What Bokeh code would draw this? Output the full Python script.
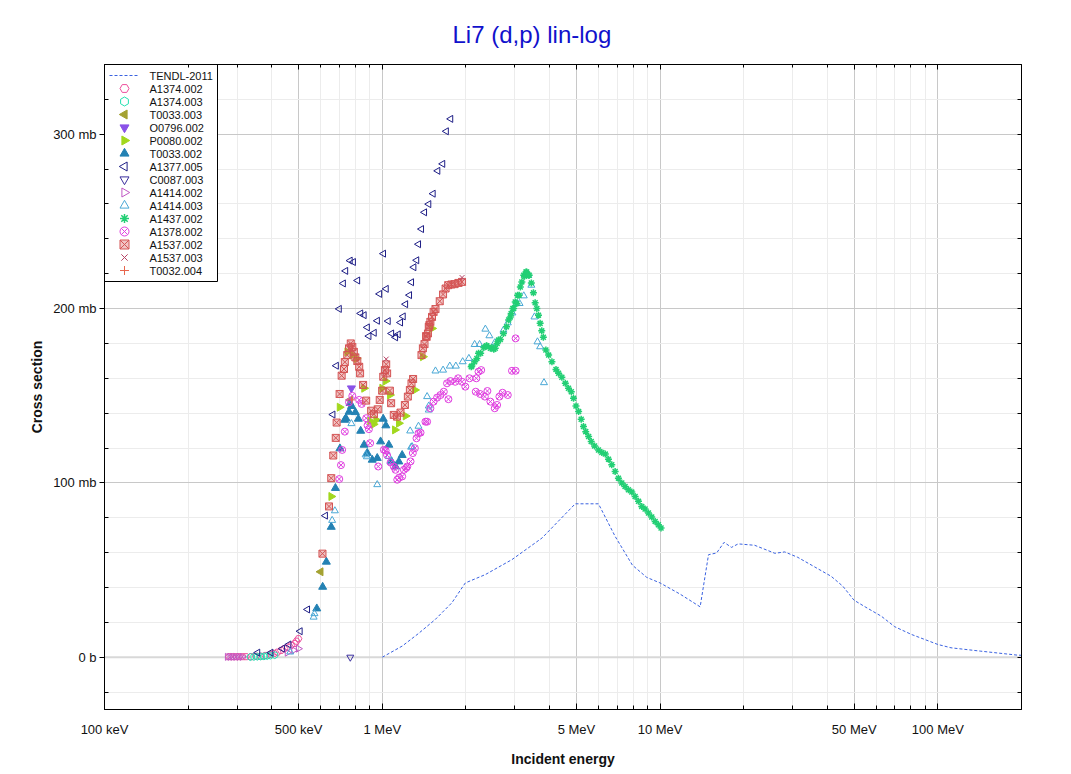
import math
from bokeh.plotting import figure
from bokeh.models import (FixedTicker, CustomJSTickFormatter, LinearAxis, LogAxis,
                          Range1d, Span, LinearScale)
from bokeh.core.properties import value
from bokeh.embed import file_html
from bokeh.resources import INLINE

# ---------------- data (energy in MeV, cross section in mb) ----------------
TENDL_E = [1.0, 1.18, 1.35, 1.55, 1.78, 1.99, 2.35, 2.93, 3.76, 4.95, 6.0, 6.89, 7.95, 8.95, 10.0,
           11.8, 13.94, 14.94, 15.98, 17.0, 18.07, 19.1, 21.9, 25.9, 28.1, 31.3, 36.0, 41.3, 45.5,
           49.9, 54.7, 62.6, 69.9, 80.2, 100.0, 111.5, 142.0, 193.0, 200.0]
TENDL_XS = [0.0, 6.4, 13.6, 21.6, 31.2, 42.6, 47.4, 56.0, 68.4, 88.0, 88.0, 69.3, 52.8, 45.8, 42.6,
            36.2, 28.9, 58.8, 59.8, 65.9, 63.0, 65.0, 64.2, 59.6, 60.4, 57.3, 51.8, 46.4, 40.7,
            32.7, 28.9, 23.5, 17.5, 13.1, 7.3, 5.4, 3.5, 1.2, 1.1]

A1374_002_E = [0.281, 0.289, 0.298, 0.305, 0.314, 0.323, 0.337, 0.351, 0.365, 0.38, 0.397, 0.408,
               0.42, 0.432, 0.444, 0.457, 0.47, 0.484, 0.491, 0.499]
A1374_002_XS = [0.3, 0.3, 0.3, 0.3, 0.3, 0.3, 0.3, 0.6, 0.6, 1.0, 1.6, 2.2, 2.9, 3.9, 4.9, 5.8,
                6.8, 7.9, 9.2, 10.6]

A1374_003_E = [0.335, 0.345, 0.355, 0.365, 0.375, 0.385, 0.395, 0.41]
A1374_003_XS = [0.1, 0.2, 0.3, 0.4, 0.5, 0.7, 0.9, 1.2]

T0033_003_E = [0.60, 0.766]
T0033_003_XS = [49.0, 147.6]

O0796_002_E = [0.774]
O0796_002_XS = [154.3]

P0080_002_E = [0.655, 0.702, 0.748, 0.78, 0.808, 0.86, 0.904, 0.93, 0.951, 0.999, 1.028, 1.065,
               1.11, 1.147, 1.213, 1.31, 1.40, 1.51]
P0080_002_XS = [92.2, 143.4, 175.2, 173.3, 171.4, 154.3, 135.5, 133.6, 136.1, 154.3, 158.4, 150.4,
                130.4, 134.2, 138.4, 153.3, 172.4, 188.6]

T0033_002_E = [0.581, 0.61, 0.629, 0.655, 0.678, 0.704, 0.732, 0.74, 0.759, 0.766, 0.775, 0.80,
               0.82, 0.836, 0.86, 0.883, 0.92, 0.959, 0.986, 1.008, 1.03, 1.056, 1.08, 1.116,
               1.147, 1.179]
T0033_002_XS = [27.9, 40.3, 54.7, 74.7, 97.0, 119.7, 136.1, 137.0, 140.7, 145.7, 144.0, 140.5,
                136.7, 129.8, 121.8, 117.1, 113.2, 114.2, 123.7, 136.7, 132.9, 121.8, 112.2, 109.4,
                112.2, 115.9]

A1377_005_E = [0.356, 0.397, 0.437, 0.461, 0.506, 0.538, 0.624, 0.664, 0.683, 0.70, 0.724, 0.738,
               0.766, 0.787, 0.815, 0.836, 0.86, 0.883, 0.895, 0.935, 0.96, 0.978, 1.01, 1.033,
               1.05, 1.08, 1.116, 1.141, 1.163, 1.189, 1.213, 1.253, 1.274, 1.299, 1.33, 1.35,
               1.384, 1.419, 1.47, 1.524, 1.584, 1.65, 1.70, 1.763]
A1377_005_XS = [2.6, 2.6, 4.9, 7.3, 14.9, 27.4, 81.2, 139.2, 167.2, 199.8, 214.4, 221.6, 227.5,
                226.7, 216.1, 197.2, 196.2, 189.2, 184.2, 186.1, 193.0, 208.4, 231.5, 211.3, 192.8,
                185.7, 183.5, 185.2, 192.0, 195.5, 202.5, 207.7, 215.1, 223.7, 227.7, 236.9, 245.6,
                255.2, 259.9, 265.9, 279.0, 283.0, 301.7, 308.8]

C0087_003_E = [0.767]
C0087_003_XS = [0.0]

A1414_002_E = [0.277, 0.283, 0.29, 0.297, 0.305, 0.313, 0.455, 0.48, 0.499]
A1414_002_XS = [0.2, 0.2, 0.2, 0.2, 0.2, 0.2, 2.6, 4.0, 4.9]

A1414_003_E = [0.466, 0.566, 0.57, 0.66, 0.675, 0.774, 0.871, 0.88, 0.959, 1.056, 1.07, 1.26,
               1.27, 1.28, 1.35, 1.45, 1.47, 1.47, 1.554, 1.655, 1.75, 1.84, 1.947, 2.05, 2.15,
               2.24, 2.35, 2.43, 2.54, 2.73, 2.83, 2.94, 3.05, 3.12, 3.23, 3.35, 3.44, 3.53, 3.62,
               3.70, 3.82]
A1414_003_XS = [3.0, 23.0, 25.0, 78.5, 84.0, 134.0, 116.1, 115.0, 99.0, 115.1, 112.2, 129.8,
                120.5, 120.8, 132.5, 149.5, 144.1, 141.8, 164.2, 164.7, 167.0, 167.0, 169.5, 171.4,
                179.4, 179.4, 188.2, 184.4, 180.4, 187.6, 191.8, 197.5, 202.9, 202.9, 207.3, 219.1,
                213.4, 195.2, 180.9, 178.1, 157.5]

A1437_002_E = [2.09, 2.10, 2.15, 2.19, 2.22, 2.26, 2.32, 2.37, 2.38, 2.45, 2.48, 2.52, 2.55, 2.59,
               2.62, 2.66, 2.73, 2.80, 2.85, 2.89, 2.91, 2.95, 2.97, 3.01, 3.05, 3.07, 3.11, 3.14,
               3.18, 3.23, 3.25, 3.29, 3.31, 3.36, 3.38, 3.44, 3.50, 3.55, 3.60, 3.65, 3.70, 3.75,
               3.80, 3.88, 3.97, 4.08, 4.22, 4.31, 4.43, 4.56, 4.68, 4.79, 4.88, 4.98, 5.09, 5.20,
               5.30, 5.40, 5.53, 5.65, 5.81, 6.00, 6.17, 6.35, 6.52, 6.70, 6.89, 7.08, 7.28, 7.48,
               7.69, 7.91, 8.13, 8.36, 8.59, 8.83, 9.08, 9.33, 9.60, 9.86, 10.08]
A1437_002_XS = [166.6, 167.0, 169.5, 171.4, 174.3, 174.3, 177.7, 178.7, 178.5, 177.2, 177.7, 176.6,
                177.2, 180.0, 181.9, 182.3, 185.7, 189.5, 193.4, 195.2, 197.2, 200.0, 200.0, 203.8,
                202.9, 207.7, 207.7, 212.4, 215.3, 219.1, 218.5, 221.0, 221.0, 219.1, 219.1, 214.7,
                209.0, 203.3, 200.0, 196.2, 191.5, 187.2, 183.5, 176.2, 173.3, 169.5, 165.1, 162.9,
                160.6, 157.1, 154.3, 152.3, 148.5, 144.1, 140.9, 136.5, 132.3, 129.4, 126.6, 123.7,
                121.2, 118.9, 117.4, 116.5, 113.6, 110.4, 106.5, 102.7, 99.9, 97.9, 96.0, 94.7,
                92.2, 89.4, 86.5, 85.0, 82.7, 80.4, 77.9, 76.0, 74.1]

A1378_002_E = [0.70, 0.71, 0.717, 0.733, 0.759, 0.78, 0.826, 0.843, 0.875, 0.885, 0.895, 0.904,
               0.967, 1.013, 1.028, 1.04, 1.071, 1.10, 1.116, 1.132, 1.15, 1.179, 1.196, 1.219,
               1.23, 1.264, 1.288, 1.31, 1.328, 1.35, 1.373, 1.43, 1.45, 1.49, 1.53, 1.575, 1.62,
               1.665, 1.71, 1.73, 1.76, 1.83, 1.875, 1.937, 1.99, 2.06, 2.17, 2.18, 2.22, 2.25,
               2.27, 2.34, 2.39, 2.45, 2.54, 2.59, 2.64, 2.71, 2.83, 2.93, 3.02, 3.02]
A1378_002_XS = [102.2, 110.2, 118.9, 129.4, 146.2, 149.9, 147.6, 145.3, 137.1, 133.0, 130.8, 122.8,
                109.4, 119.0, 118.6, 116.0, 111.7, 109.4, 107.5, 101.8, 103.0, 103.7, 107.5, 108.5,
                109.4, 112.3, 117.1, 119.9, 125.6, 128.5, 128.8, 135.1, 135.1, 142.8, 146.6, 148.9,
                150.4, 152.3, 157.1, 148.0, 158.4, 158.0, 160.0, 158.0, 155.2, 160.0, 152.3, 160.0,
                163.8, 151.0, 164.7, 149.5, 152.7, 146.6, 142.8, 144.7, 149.5, 151.7, 150.4, 164.3,
                164.3, 182.9]

A1537_002_E = [0.609, 0.643, 0.655, 0.666, 0.68, 0.685, 0.702, 0.714, 0.728, 0.733, 0.748, 0.759,
               0.77, 0.78, 0.79, 0.80, 0.813, 0.826, 0.832, 0.853, 0.875, 0.912, 0.933, 0.963,
               0.979, 0.999, 1.008, 1.022, 1.033, 1.041, 1.065, 1.076, 1.10, 1.13, 1.163, 1.206,
               1.236, 1.257, 1.274, 1.291, 1.384, 1.40, 1.419, 1.438, 1.444, 1.46, 1.47, 1.478,
               1.49, 1.51, 1.53, 1.554, 1.61, 1.655, 1.69, 1.727, 1.773, 1.82, 1.88, 1.937]
A1537_002_XS = [59.4, 86.5, 102.7, 115.7, 125.8, 134.6, 151.0, 161.5, 165.3, 169.3, 173.3, 177.2,
                180.0, 178.0, 175.2, 172.0, 169.9, 166.6, 162.8, 156.2, 147.2, 141.4, 139.4, 142.2,
                147.6, 152.9, 160.9, 164.7, 168.0, 162.8, 152.9, 145.7, 139.0, 138.0, 140.3, 144.7,
                149.5, 153.3, 157.1, 159.6, 173.3, 177.2, 179.6, 184.2, 183.8, 185.7, 189.5, 190.5,
                192.4, 195.2, 198.1, 199.7, 204.2, 208.1, 211.5, 213.4, 213.8, 214.0, 214.7, 215.3]

A1537_003_E = [1.033, 1.937]
A1537_003_XS = [171.0, 217.8]

T0032_004_E = [0.776]
T0032_004_XS = [147.6]

X_MAJOR = [0.1, 0.5, 1, 5, 10, 50, 100]
X_MINOR = [0.2, 0.3, 0.4, 0.6, 0.7, 0.8, 0.9, 2, 3, 4, 6, 7, 8, 9,
           20, 30, 40, 60, 70, 80, 90]
Y_MAJOR = [0, 100, 200, 300]
Y_MINOR = [-20, 20, 40, 60, 80, 120, 140, 160, 180, 220, 240, 260, 280, 320]

# (label, energies, cross sections, marker, colour, angle, filled)
SERIES = [
    ("A1374.002", A1374_002_E, A1374_002_XS, "hex", "#ee4e9c", 0.0, False),
    ("A1374.003", A1374_003_E, A1374_003_XS, "hex", "#22e0b0", math.pi / 2, False),
    ("T0033.003", T0033_003_E, T0033_003_XS, "triangle", "#a4a232", math.pi / 2, True),
    ("O0796.002", O0796_002_E, O0796_002_XS, "inverted_triangle", "#8a52e8", 0.0, True),
    ("P0080.002", P0080_002_E, P0080_002_XS, "triangle", "#a2d81e", -math.pi / 2, True),
    ("T0033.002", T0033_002_E, T0033_002_XS, "triangle", "#2381b3", 0.0, True),
    ("A1377.005", A1377_005_E, A1377_005_XS, "triangle", "#1e1e86", math.pi / 2, False),
    ("C0087.003", C0087_003_E, C0087_003_XS, "inverted_triangle", "#3a2e9e", 0.0, False),
    ("A1414.002", A1414_002_E, A1414_002_XS, "triangle", "#c058c4", -math.pi / 2, False),
    ("A1414.003", A1414_003_E, A1414_003_XS, "triangle", "#4aa8d6", 0.0, False),
    ("A1437.002", A1437_002_E, A1437_002_XS, "asterisk", "#22cf74", 0.0, False),
    ("A1378.002", A1378_002_E, A1378_002_XS, "circle_x", "#e03fe0", 0.0, False),
    ("A1537.002", A1537_002_E, A1537_002_XS, "square_x", "#d45454", 0.0, True),
    ("A1537.003", A1537_003_E, A1537_003_XS, "x", "#b84466", 0.0, False),
    ("T0032.004", T0032_004_E, T0032_004_XS, "cross", "#e8664e", 0.0, False),
]

FONT = "Liberation Sans"
FRAME_W, FRAME_H = 917, 645
TENDL_COLOR = "#3a62e0"

p = figure(x_axis_type="log", x_range=Range1d(0.1, 200), y_range=Range1d(-30, 340),
           frame_width=FRAME_W, frame_height=FRAME_H,
           min_border_left=104, min_border_right=25, min_border_top=64, min_border_bottom=56,
           output_backend="svg", toolbar_location=None, title="Li7 (d,p) lin-log")

p.title.text_font = FONT
p.title.text_font_size = "24px"
p.title.text_font_style = "normal"
p.title.text_color = "#1111cc"
p.title.align = "left"
p.title.offset = 348
p.title.standoff = 34
p.outline_line_color = "black"
p.outline_line_width = 1
p.background_fill_color = "white"
p.border_fill_color = "white"

xt = FixedTicker(ticks=X_MAJOR, minor_ticks=X_MINOR)
yt = FixedTicker(ticks=Y_MAJOR, minor_ticks=Y_MINOR)

xfmt = CustomJSTickFormatter(code="""
if (tick < 0.999) { return Math.round(tick*1000) + ' keV'; }
return Math.round(tick) + ' MeV';
""")
yfmt = CustomJSTickFormatter(code="return tick == 0 ? '0 b' : tick.toFixed(0) + ' mb';")
empty = CustomJSTickFormatter(code="return '';")

for ax in p.xaxis:
    ax.ticker = xt
    ax.formatter = xfmt
    ax.major_tick_in = 6
    ax.major_tick_out = 0
    ax.minor_tick_in = 4
    ax.minor_tick_out = 0
    ax.major_label_standoff = 12
    ax.axis_label = "Incident energy"
    ax.axis_label_standoff = 11
for ax in p.yaxis:
    ax.ticker = yt
    ax.formatter = yfmt
    ax.major_tick_in = 0
    ax.major_tick_out = 5
    ax.minor_tick_in = 4
    ax.minor_tick_out = 0
    ax.major_label_standoff = 3
    ax.axis_label = "Cross section"
    ax.axis_label_standoff = 5

for ax in list(p.xaxis) + list(p.yaxis):
    ax.axis_line_color = "black"
    ax.major_tick_line_color = "black"
    ax.minor_tick_line_color = "black"
    ax.major_label_text_font = FONT
    ax.major_label_text_font_size = "13px"
    ax.major_label_text_color = "#111111"
    ax.axis_label_text_font = FONT
    ax.axis_label_text_font_size = "14px"
    ax.axis_label_text_font_style = "bold"
    ax.axis_label_text_color = "#111111"

top = LogAxis(ticker=xt, formatter=empty, major_tick_in=5, major_tick_out=0,
              minor_tick_in=3, minor_tick_out=0, major_label_standoff=0,
              axis_line_color="black")
right = LinearAxis(ticker=yt, formatter=empty, major_tick_in=4, major_tick_out=0,
                   minor_tick_in=4, minor_tick_out=0, major_label_standoff=0,
                   axis_line_color="black")
p.add_layout(top, "above")
p.add_layout(right, "right")

p.xgrid.ticker = xt
p.ygrid.ticker = yt
p.xgrid.grid_line_color = "#c8c8c8"
p.ygrid.grid_line_color = "#c8c8c8"
p.xgrid.minor_grid_line_color = "#ececec"
p.ygrid.minor_grid_line_color = "#ececec"

p.add_layout(Span(location=0, dimension="width", line_color="#d8d8d8", line_width=2,
                  level="underlay"))

# ---------------- data marks ----------------
p.line(TENDL_E, TENDL_XS, line_color=TENDL_COLOR, line_width=1, line_dash="3 2")

for label, xs, ys, marker, color, angle, filled in SERIES:
    lw = 1.5 if marker == "asterisk" else 1
    fa = 0.35 if marker == "square_x" else 1.0
    sz = 8 if (filled and marker != "square_x") else 7
    p.scatter(xs, ys, marker=marker, size=sz, angle=angle,
              line_color=color, line_width=lw,
              fill_color=color if filled else None, fill_alpha=fa)

# ---------------- legend (drawn in frame-pixel coordinates) ----------------
p.extra_x_ranges = {"leg": Range1d(0, FRAME_W)}
p.extra_y_ranges = {"leg": Range1d(0, FRAME_H)}
p.extra_x_scales = {"leg": LinearScale()}
p.extra_y_scales = {"leg": LinearScale()}

LEG_W, ROW, PAD = 113, 13, 11
n_rows = len(SERIES) + 1
LEG_H = PAD * 2 + ROW * (n_rows - 1)
p.quad(left=[0], right=[LEG_W], top=[FRAME_H], bottom=[FRAME_H - LEG_H],
       fill_color="white", line_color="black", line_width=1,
       x_range_name="leg", y_range_name="leg")

row_y = [FRAME_H - PAD - ROW * i for i in range(n_rows)]
p.line([5, 33], [row_y[0], row_y[0]], line_color=TENDL_COLOR, line_width=1, line_dash="3 2",
       x_range_name="leg", y_range_name="leg")
for i, (label, xs, ys, marker, color, angle, filled) in enumerate(SERIES):
    lw = 1.5 if marker == "asterisk" else 1
    fa = 0.35 if marker == "square_x" else 1.0
    p.scatter([20], [row_y[i + 1]], marker=marker, size=9, angle=angle,
              line_color=color, line_width=lw,
              fill_color=color if filled else None, fill_alpha=fa,
              x_range_name="leg", y_range_name="leg")

labels = ["TENDL-2011"] + [s[0] for s in SERIES]
p.text(x=[45] * n_rows, y=row_y, text=labels, text_font=value(FONT),
       text_font_size="11px", text_baseline="middle", text_color="#111111",
       x_range_name="leg", y_range_name="leg")

open("out.html", "w").write(file_html(p, INLINE))
